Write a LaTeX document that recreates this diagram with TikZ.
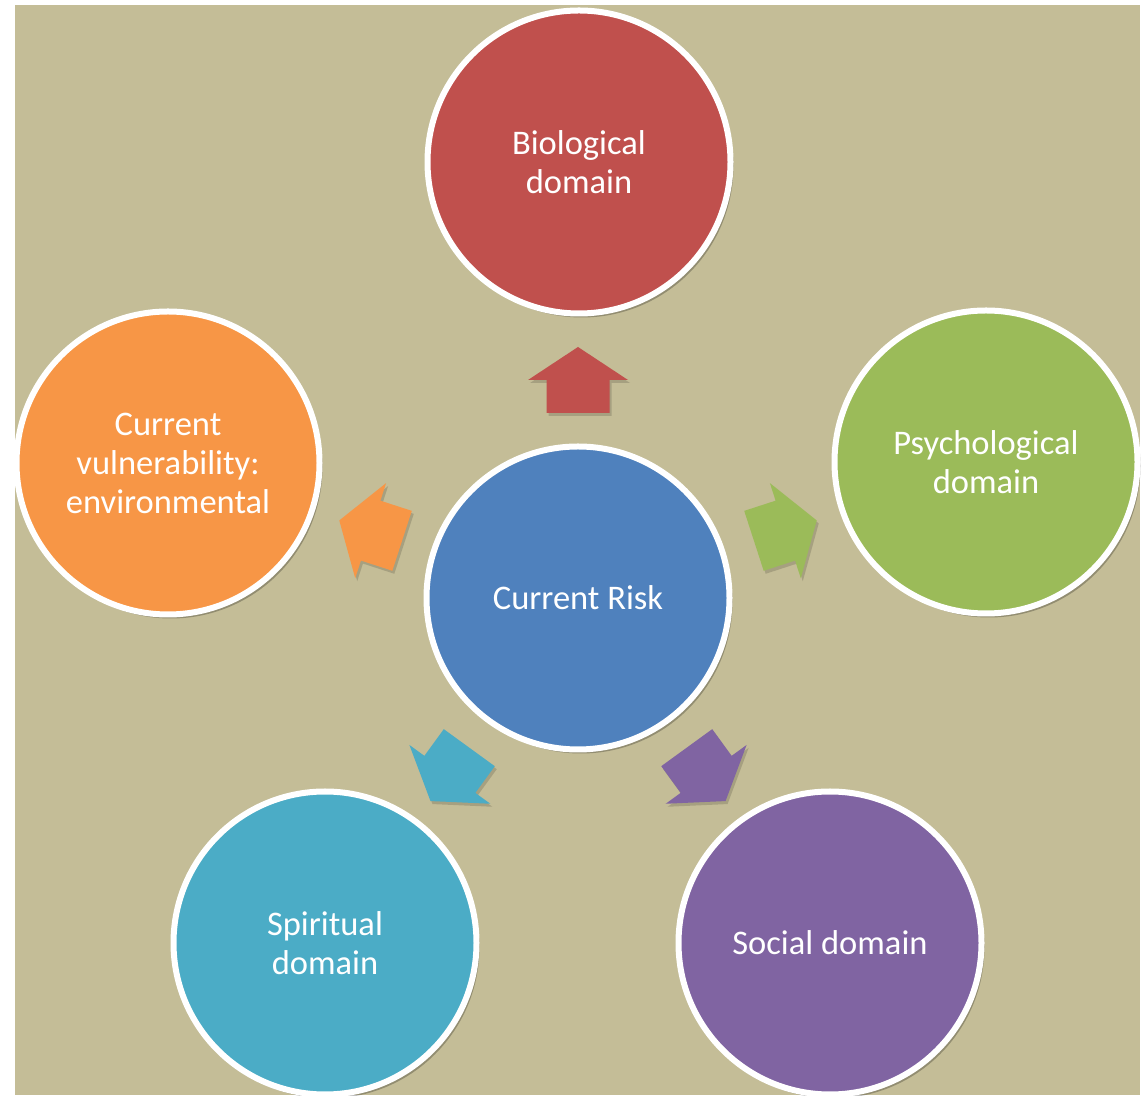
\documentclass[tikz,border=0pt]{standalone}
\usepackage{fontspec}
\setmainfont{Carlito}
\usetikzlibrary{calc,shadows}
\definecolor{bgtan}{HTML}{C4BD97}
\definecolor{cred}{HTML}{C0504D}
\definecolor{cblue}{HTML}{4F81BD}
\definecolor{cgreen}{HTML}{9BBB59}
\definecolor{cpurple}{HTML}{8064A2}
\definecolor{caqua}{HTML}{4BACC6}
\definecolor{corange}{HTML}{F79646}
\tikzset{
  domain/.style={circle, minimum size=303pt, inner sep=0pt, draw=white, line width=6pt,
    fill=#1, text=white, align=center, font=\fontsize{34.5}{39}\selectfont,
    drop shadow={shadow xshift=3pt, shadow yshift=-4pt, opacity=0.25, fill=black}},
  blockarrow/.style={fill=#1, drop shadow={shadow xshift=2pt, shadow yshift=-3pt, opacity=0.15, fill=black}}
}
\newcommand{\housearrow}[3]{% angle, colour, name
  \coordinate (#3) at ($(cr)+(#1:218)$);
  \fill[blockarrow=#2, shift={(#3)}, rotate=#1-90]
    (0,33) -- (50,0) -- (31.5,0) -- (31.5,-33) -- (-31.5,-33) -- (-31.5,0) -- (-50,0) -- cycle;
}
\begin{document}
\begin{tikzpicture}[x=1pt,y=1pt]
\useasboundingbox (0,0) rectangle (1143,1095);
\fill[white] (0,0) rectangle (1143,1095);
\fill[bgtan] (15,0) rectangle (1140,1090);
\begin{scope}
\clip (0,0) rectangle (1143,1095);
\node[domain=cblue] (cr) at (578,497) {Current Risk};
\node[domain=cred] (bio) at (579,933) {Biological\\domain};
\node[domain=cgreen] (psy) at (986,633) {Psychological\\domain};
\node[domain=corange] (env) at (168,632) {Current\\vulnerability:\\environmental};
\node[domain=caqua] (spi) at (325,152) {Spiritual\\domain};
\node[domain=cpurple] (soc) at (830,152) {Social domain};
\housearrow{90}{cred}{a1}
\housearrow{18}{cgreen}{a2}
\housearrow{162}{corange}{a3}
\housearrow{-126}{caqua}{a4}
\housearrow{-54}{cpurple}{a5}
\end{scope}
\end{tikzpicture}
\end{document}
